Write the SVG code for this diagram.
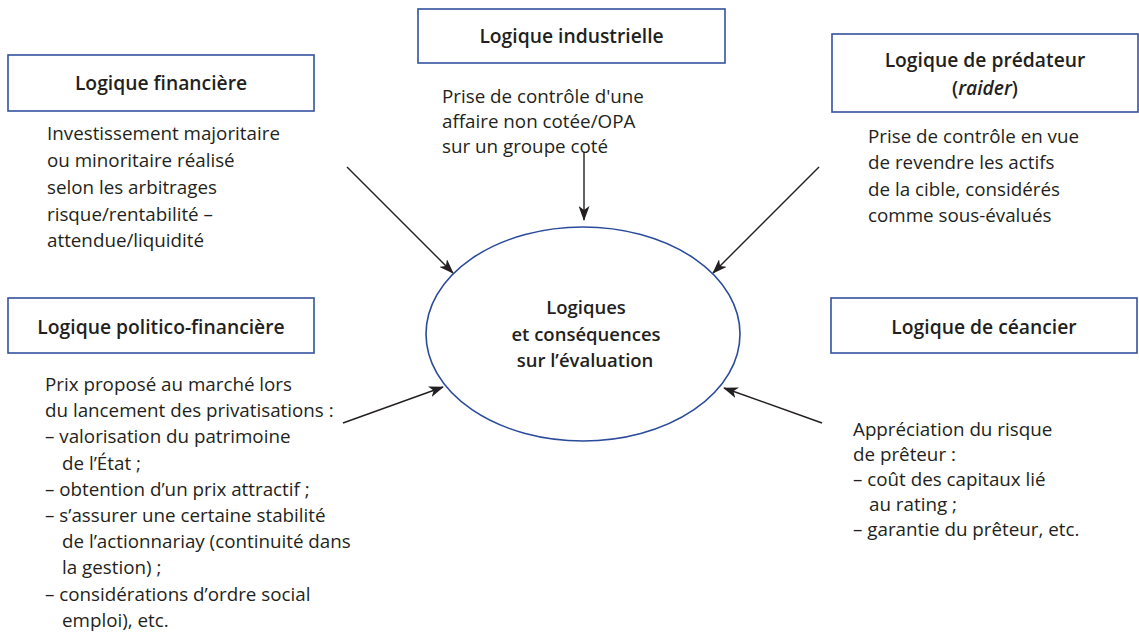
<svg xmlns="http://www.w3.org/2000/svg" width="1139" height="633" viewBox="0 0 1139 633">
<defs>
<marker id="ah" markerWidth="15" markerHeight="11" refX="14" refY="5.5" orient="auto" markerUnits="userSpaceOnUse">
<path d="M0,0 L15,5.5 L0,11 L4,5.5 Z" fill="#231f20"/>
</marker>
<style>
.box{fill:#fff;stroke:#3552a0;stroke-width:1.6}
.ell{fill:#fff;stroke:#2a4b9b;stroke-width:1.6}
.t{font-family:"Open Sans","Liberation Sans",sans-serif;font-size:19.3px;font-weight:600;fill:#231f20;text-anchor:middle}
.b{font-family:"Open Sans","Liberation Sans",sans-serif;font-size:18.8px;fill:#231f20}
.c{font-family:"Open Sans","Liberation Sans",sans-serif;font-size:18.5px;font-weight:600;fill:#231f20;text-anchor:middle}
.ln{stroke:#231f20;stroke-width:1.4;fill:none;marker-end:url(#ah)}
</style>
</defs>
<rect width="1139" height="633" fill="#fff"/>
<g id="connectors">
<line class="ln" x1="347" y1="167" x2="453" y2="273"/>
<line class="ln" x1="584" y1="152" x2="584" y2="220"/>
<line class="ln" x1="819" y1="167" x2="713" y2="273"/>
<line class="ln" x1="343" y1="423" x2="443" y2="387"/>
<line class="ln" x1="822" y1="423" x2="724" y2="388"/>
</g>
<g id="center">
<ellipse class="ell" cx="583" cy="334" rx="157" ry="107"/>
<text class="c" x="586" y="314">Logiques</text>
<text class="c" x="586" y="341">et conséquences</text>
<text class="c" x="585" y="367">sur l’évaluation</text>
</g>
<g id="financiere">
<rect class="box" x="8" y="55" width="306" height="56"/>
<text class="t" x="161" y="90">Logique financière</text>
<text class="b" x="47" y="140">Investissement majoritaire</text>
<text class="b" x="47" y="167">ou minoritaire réalisé</text>
<text class="b" x="47" y="194">selon les arbitrages</text>
<text class="b" x="47" y="221">risque/rentabilité –</text>
<text class="b" x="47" y="247">attendue/liquidité</text>
</g>
<g id="industrielle">
<rect class="box" x="418" y="9" width="307" height="54"/>
<text class="t" x="571.5" y="43">Logique industrielle</text>
<text class="b" x="442" y="103">Prise de contrôle d'une</text>
<text class="b" x="442" y="128">affaire non cotée/OPA</text>
<text class="b" x="442" y="153">sur un groupe coté</text>
</g>
<g id="predateur">
<rect class="box" x="832" y="34" width="306" height="78"/>
<text class="t" x="985" y="67">Logique de prédateur</text>
<text class="t" x="985" y="95">(<tspan font-style="italic">raider</tspan>)</text>
<text class="b" x="868" y="143">Prise de contrôle en vue</text>
<text class="b" x="868" y="169">de revendre les actifs</text>
<text class="b" x="868" y="196">de la cible, considérés</text>
<text class="b" x="868" y="222">comme sous-évalués</text>
</g>
<g id="politico">
<rect class="box" x="8" y="298" width="306" height="55"/>
<text class="t" x="161" y="334">Logique politico-financière</text>
<text class="b" x="45" y="391">Prix proposé au marché lors</text>
<text class="b" x="45" y="417">du lancement des privatisations :</text>
<text class="b" x="45" y="443">– valorisation du patrimoine</text>
<text class="b" x="62" y="470">de l’État ;</text>
<text class="b" x="45" y="496">– obtention d’un prix attractif ;</text>
<text class="b" x="45" y="522">– s’assurer une certaine stabilité</text>
<text class="b" x="62" y="548">de l’actionnariay (continuité dans</text>
<text class="b" x="62" y="574">la gestion) ;</text>
<text class="b" x="45" y="601">– considérations d’ordre social</text>
<text class="b" x="62" y="627">emploi), etc.</text>
</g>
<g id="creancier">
<rect class="box" x="831" y="298" width="306" height="55"/>
<text class="t" x="984" y="334">Logique de céancier</text>
<text class="b" x="853" y="436">Appréciation du risque</text>
<text class="b" x="853" y="461">de prêteur :</text>
<text class="b" x="853" y="486">– coût des capitaux lié</text>
<text class="b" x="869" y="511">au rating ;</text>
<text class="b" x="853" y="536">– garantie du prêteur, etc.</text>
</g>
</svg>
